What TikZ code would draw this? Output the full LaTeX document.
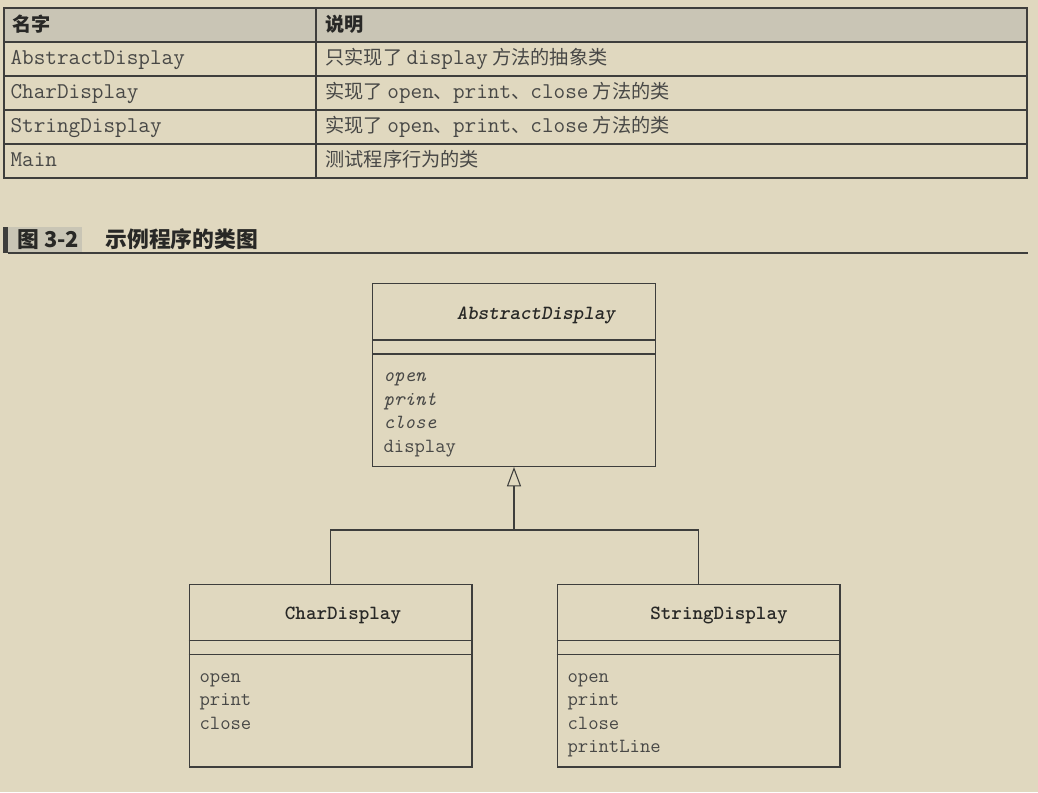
\documentclass[tikz,border=0pt]{standalone}
\usepackage{fontspec}
\newfontfamily\zh[Scale=0.85]{Noto Sans CJK SC}
\usetikzlibrary{arrows.meta,calc}
\definecolor{paper}{RGB}{224,216,191}
\definecolor{headgray}{RGB}{201,197,181}
\definecolor{rulegray}{RGB}{62,62,60}
\definecolor{inkgray}{RGB}{72,72,70}
\definecolor{inkdark}{RGB}{40,40,38}

\begin{document}
\begin{tikzpicture}[x=0.02cm,y=-0.02cm,line width=0.6pt,
		every node/.style={inner sep=0pt},
		cell/.style={anchor=base west,text=inkgray,font=\ttfamily\fontsize{12.85}{15}\selectfont},
		headcell/.style={anchor=base west,text=inkdark,font=\zh\bfseries\fontsize{12.85}{15}\selectfont},
		classbox/.style={draw=rulegray,minimum width=5.66cm,minimum height=3.66cm},
		classname/.style={anchor=base,text=inkdark,font=\ttfamily\bfseries\fontsize{11.45}{14}\selectfont},
		op/.style={anchor=base west,text=inkgray,font=\ttfamily\fontsize{11.45}{14}\selectfont},
		extends/.style={draw=rulegray,-{Triangle[open,length=11pt,width=8pt]}}]
		\fill[paper] (0,0) rectangle (1038,792);
		\useasboundingbox (0,0) rectangle (1038,792);

		% table of classes
		\fill[headgray] (4,8) rectangle (1027,42);
		\foreach \y in {42,76,110,144} \draw[rulegray] (4,\y) -- (1027,\y);
		\draw[rulegray] (316,8) -- (316,178);
		\draw[rulegray,line width=0.9pt] (4,8) rectangle (1027,178);
		\node[headcell] (hname) at (12,31) {名字};
		\node[headcell] (hdesc) at (325,31) {说明};
		\node[cell] (name1) at (10,64) {AbstractDisplay};
		\node[cell] (desc1) at (325,64) {{\zh 只实现了 }display{\zh\ 方法的抽象类}};
		\node[cell] (name2) at (10,98) {CharDisplay};
		\node[cell] (desc2) at (325,98) {{\zh 实现了 }open{\zh 、}print{\zh 、}close{\zh\ 方法的类}};
		\node[cell] (name3) at (10,132) {StringDisplay};
		\node[cell] (desc3) at (325,132) {{\zh 实现了 }open{\zh 、}print{\zh 、}close{\zh\ 方法的类}};
		\node[cell] (name4) at (10,166) {Main};
		\node[cell] (desc4) at (325,166) {\zh 测试程序行为的类};

		% caption
		\fill[rulegray] (3,227) rectangle (8,253);
		\fill[headgray] (8,227) rectangle (82,253);
		\draw[rulegray] (8,253) -- (1028,253);
		\node[headcell,font=\zh\bfseries\fontsize{14.6}{17}\selectfont] (figno) at (17,247) {图 3-2};
		\node[headcell,font=\zh\bfseries\fontsize{14.6}{17}\selectfont] (figtitle) at (105,247) {示例程序的类图};

		% class diagram
		\node[classbox] (ad) at (514,375) {};
		\node[classbox] (cd) at (330.5,675.5) {};
		\node[classbox] (sd) at (698.5,675.5) {};
		\foreach \c in {ad,cd,sd}
			\foreach \d in {57,71}
				\draw[rulegray] ($(\c.north west)+(0,\d)$) -- ($(\c.north east)+(0,\d)$);

		\node[classname] (adname) at (536,319) {\itshape AbstractDisplay};
		\node[classname] (cdname) at (343,619) {CharDisplay};
		\node[classname] (sdname) at (719,619) {StringDisplay};

		\foreach \m [count=\i from 0] in {open,print,close}
			\node[op] (adop\i) at (383,{381.5+23.6*\i}) {\itshape \m};
		\node[op] (adop3) at (383,452.3) {display};
		\foreach \m [count=\i from 0] in {open,print,close}
			\node[op] (cdop\i) at (199,{682+23.6*\i}) {\m};
		\foreach \m [count=\i from 0] in {open,print,close,printLine}
			\node[op] (sdop\i) at (567,{682+23.6*\i}) {\m};

		\coordinate (fork) at (514,530);
		\draw[rulegray] (cd.north) |- (fork) -| (sd.north);
		\draw[extends] (fork) -- (ad.south);
	\end{tikzpicture}
\end{document}
